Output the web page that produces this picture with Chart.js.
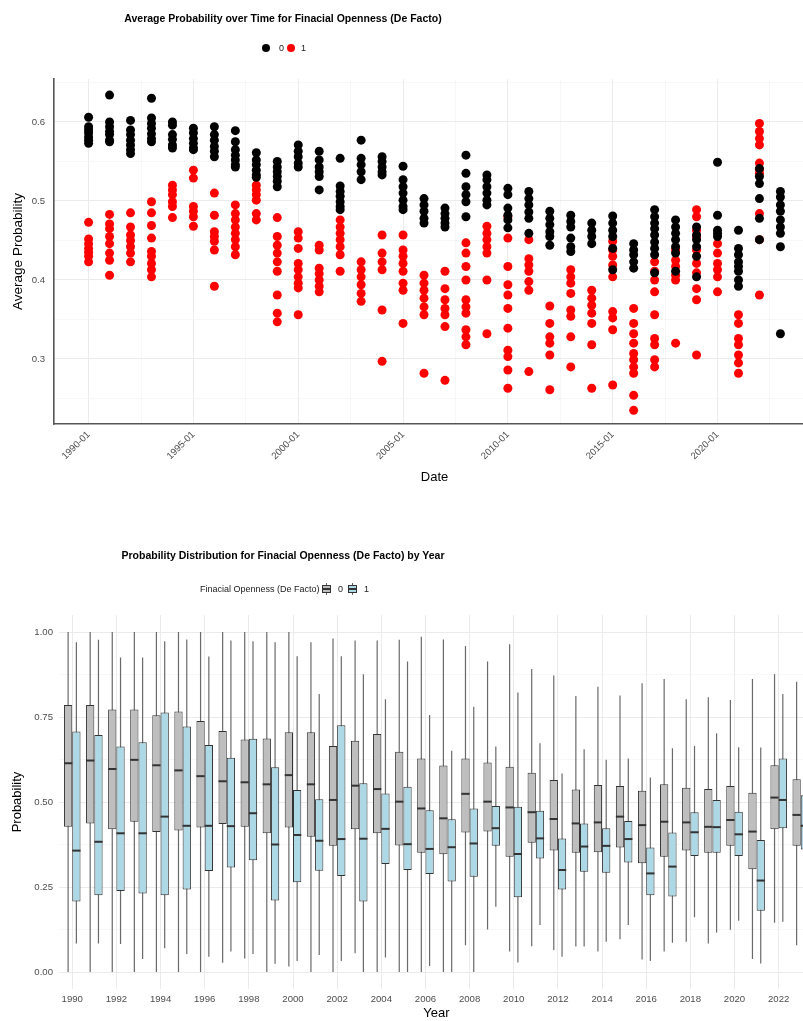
<!DOCTYPE html>
<html>
<head>
<meta charset="utf-8">
<script src="https://cdn.jsdelivr.net/npm/chart.js@4.4.1/dist/chart.umd.min.js"></script>
<style>
  html, body { margin: 0; padding: 0; background: #fff; overflow: hidden; }
  #page { position: relative; width: 820px; height: 1021px; font-family: "Liberation Sans", Arial, Helvetica, sans-serif; }
  canvas { position: absolute; left: 0; }
  #scatter { top: 0; }
  #boxes { top: 500px; }
  .txt { position: absolute; color: #000; white-space: nowrap; line-height: 14px; }
  .title { left: 0; width: 566px; text-align: center; font-weight: bold; font-size: 10.5px; }
  .leg { font-size: 9px; color: #1a1a1a; }
  .dot { position: absolute; width: 8px; height: 8px; border-radius: 50%; }
  .key { position: absolute; width: 9px; height: 12px; }
  .key i { position: absolute; display: block; }
  .key .wh { left: 4px; top: 0; width: 1px; height: 12px; background: #666; }
  .key .bx { left: 0; top: 2px; width: 7px; height: 6px; border: 1px solid #333; }
  .key .md { left: 0; top: 5px; width: 9px; height: 1.5px; background: #333; }
</style>
</head>
<body>
<div id="page">
  <canvas id="scatter" width="820" height="500"></canvas>
  <canvas id="boxes" width="820" height="521"></canvas>

  <div class="txt title" style="top:11px">Average Probability over Time for Finacial Openness (De Facto)</div>
  <span class="dot" style="left:262px;top:44px;background:#000"></span>
  <span class="txt leg" style="left:279px;top:41px">0</span>
  <span class="dot" style="left:287px;top:44px;background:#ff0000"></span>
  <span class="txt leg" style="left:301px;top:41px">1</span>

  <div class="txt title" style="top:548px">Probability Distribution for Finacial Openness (De Facto) by Year</div>
  <span class="txt leg" style="left:200px;top:582px">Finacial Openness (De Facto)</span>
  <span class="key" style="left:322px;top:583px"><i class="wh"></i><i class="bx" style="background:#bebebe"></i><i class="md"></i></span>
  <span class="txt leg" style="left:338px;top:582px">0</span>
  <span class="key" style="left:348px;top:583px"><i class="wh"></i><i class="bx" style="background:#add8e6"></i><i class="md"></i></span>
  <span class="txt leg" style="left:364px;top:582px">1</span>
</div>

<script>
// Years shared by both charts
var years = [1990, 1991, 1992, 1993, 1994, 1995, 1996, 1997, 1998, 1999,
             2000, 2001, 2002, 2003, 2004, 2005, 2006, 2007, 2008, 2009,
             2010, 2011, 2012, 2013, 2014, 2015, 2016, 2017, 2018, 2019,
             2020, 2021, 2022, 2023];

// Average probability per year, group 0 (black)
var avgProb0 = [
    [0.606, 0.594, 0.590, 0.586, 0.581, 0.577, 0.573],
    [0.634, 0.600, 0.594, 0.588, 0.584, 0.577, 0.575],
    [0.602, 0.590, 0.584, 0.577, 0.571, 0.565, 0.560],
    [0.630, 0.605, 0.598, 0.592, 0.585, 0.579, 0.575],
    [0.600, 0.596, 0.584, 0.578, 0.571, 0.567],
    [0.592, 0.586, 0.579, 0.573, 0.567, 0.565],
    [0.594, 0.584, 0.577, 0.569, 0.563, 0.556],
    [0.589, 0.575, 0.565, 0.558, 0.552, 0.546, 0.543],
    [0.561, 0.552, 0.546, 0.539, 0.533, 0.530],
    [0.550, 0.543, 0.537, 0.531, 0.525, 0.518],
    [0.571, 0.563, 0.556, 0.548, 0.543],
    [0.563, 0.552, 0.543, 0.537, 0.531, 0.514],
    [0.554, 0.519, 0.512, 0.506, 0.499, 0.493, 0.489],
    [0.577, 0.554, 0.546, 0.537, 0.527],
    [0.556, 0.550, 0.543, 0.537, 0.533],
    [0.544, 0.527, 0.518, 0.510, 0.501, 0.493, 0.489],
    [0.503, 0.495, 0.487, 0.478, 0.472],
    [0.491, 0.484, 0.478, 0.472, 0.467],
    [0.558, 0.535, 0.518, 0.508, 0.499, 0.480],
    [0.533, 0.527, 0.518, 0.510, 0.501, 0.495],
    [0.516, 0.508, 0.491, 0.482, 0.476, 0.466],
    [0.512, 0.503, 0.495, 0.486, 0.478, 0.459],
    [0.487, 0.478, 0.470, 0.461, 0.455, 0.444],
    [0.482, 0.474, 0.467, 0.453, 0.442, 0.436],
    [0.472, 0.463, 0.455, 0.446],
    [0.481, 0.472, 0.463, 0.455, 0.440, 0.413],
    [0.446, 0.438, 0.432, 0.423, 0.415],
    [0.489, 0.480, 0.472, 0.465, 0.457, 0.448, 0.440, 0.432, 0.409],
    [0.476, 0.467, 0.459, 0.451, 0.442, 0.434, 0.411],
    [0.467, 0.457, 0.451, 0.442, 0.430, 0.404],
    [0.549, 0.482, 0.463, 0.459, 0.455],
    [0.463, 0.440, 0.432, 0.423, 0.417, 0.411, 0.400, 0.392],
    [0.541, 0.531, 0.522, 0.503, 0.478, 0.451],
    [0.512, 0.505, 0.495, 0.487, 0.476, 0.467, 0.459, 0.442, 0.332]
];

// Average probability per year, group 1 (red)
var avgProb1 = [
    [0.473, 0.452, 0.446, 0.440, 0.435, 0.430, 0.423],
    [0.483, 0.471, 0.465, 0.455, 0.446, 0.434, 0.425, 0.406],
    [0.485, 0.467, 0.457, 0.450, 0.442, 0.434, 0.423],
    [0.499, 0.485, 0.469, 0.453, 0.436, 0.430, 0.421, 0.413, 0.404],
    [0.520, 0.514, 0.508, 0.499, 0.493, 0.479],
    [0.539, 0.529, 0.493, 0.487, 0.480, 0.468],
    [0.510, 0.482, 0.461, 0.455, 0.449, 0.438, 0.392],
    [0.495, 0.484, 0.476, 0.467, 0.459, 0.451, 0.442, 0.432],
    [0.520, 0.514, 0.508, 0.501, 0.484, 0.476],
    [0.479, 0.455, 0.444, 0.434, 0.423, 0.411, 0.381, 0.358, 0.347],
    [0.461, 0.453, 0.440, 0.421, 0.413, 0.404, 0.396, 0.390, 0.356],
    [0.444, 0.438, 0.415, 0.408, 0.400, 0.392, 0.385],
    [0.476, 0.467, 0.459, 0.451, 0.442, 0.432, 0.411],
    [0.423, 0.413, 0.404, 0.394, 0.383, 0.373],
    [0.457, 0.434, 0.423, 0.413, 0.362, 0.297],
    [0.457, 0.438, 0.430, 0.421, 0.411, 0.396, 0.387, 0.345],
    [0.406, 0.396, 0.387, 0.377, 0.366, 0.356, 0.282],
    [0.411, 0.389, 0.375, 0.364, 0.356, 0.341, 0.273],
    [0.447, 0.434, 0.417, 0.400, 0.375, 0.366, 0.358, 0.337, 0.328, 0.318],
    [0.468, 0.459, 0.451, 0.442, 0.434, 0.400, 0.332],
    [0.480, 0.453, 0.417, 0.394, 0.381, 0.364, 0.339, 0.311, 0.303, 0.286, 0.263],
    [0.451, 0.427, 0.419, 0.411, 0.398, 0.387, 0.284],
    [0.367, 0.345, 0.328, 0.320, 0.305, 0.261],
    [0.413, 0.404, 0.396, 0.383, 0.362, 0.354, 0.328, 0.290],
    [0.387, 0.377, 0.368, 0.358, 0.345, 0.318, 0.263],
    [0.449, 0.438, 0.430, 0.419, 0.404, 0.360, 0.352, 0.337, 0.267],
    [0.364, 0.345, 0.332, 0.320, 0.307, 0.299, 0.290, 0.282, 0.254, 0.235],
    [0.423, 0.411, 0.400, 0.385, 0.356, 0.326, 0.318, 0.299, 0.290],
    [0.438, 0.425, 0.417, 0.406, 0.400, 0.320],
    [0.489, 0.480, 0.463, 0.455, 0.438, 0.421, 0.409, 0.389, 0.375, 0.305],
    [0.446, 0.434, 0.421, 0.413, 0.404, 0.385],
    [0.356, 0.345, 0.326, 0.318, 0.305, 0.295, 0.282],
    [0.598, 0.588, 0.579, 0.571, 0.548, 0.540, 0.535, 0.484, 0.451, 0.381],
    []
];

// Box plot statistics, group 0 (grey)
var hiZero  = [1.0, 1.0, 1.0, 1.0, 1.0, 1.0, 1.0, 1.0, 1.0, 1.0, 1.0, 0.970, 0.981, 0.975, 0.975,
               0.977, 0.986, 0.978, 0.959, 0.913, 0.964, 0.891, 0.872, 0.812, 0.839, 0.813, 0.849,
               0.862, 0.802, 0.808, 0.800, 0.862, 0.876, 0.854];
var q3Zero  = [0.785, 0.785, 0.772, 0.772, 0.755, 0.766, 0.738, 0.709, 0.684, 0.687, 0.705, 0.705, 0.665, 0.680, 0.700,
               0.648, 0.628, 0.607, 0.628, 0.616, 0.604, 0.586, 0.565, 0.537, 0.550, 0.547, 0.533,
               0.552, 0.542, 0.538, 0.547, 0.527, 0.608, 0.567];
var medZero = [0.614, 0.622, 0.597, 0.624, 0.608, 0.593, 0.576, 0.561, 0.558, 0.552, 0.579, 0.552, 0.506, 0.548, 0.538,
               0.501, 0.481, 0.452, 0.524, 0.501, 0.484, 0.470, 0.450, 0.437, 0.440, 0.457, 0.432,
               0.442, 0.440, 0.427, 0.447, 0.413, 0.513, 0.462];
var q1Zero  = [0.427, 0.437, 0.420, 0.442, 0.412, 0.416, 0.425, 0.435, 0.427, 0.408, 0.425, 0.398, 0.371, 0.420, 0.408,
               0.372, 0.351, 0.346, 0.410, 0.413, 0.339, 0.380, 0.357, 0.351, 0.352, 0.366, 0.320,
               0.339, 0.357, 0.351, 0.371, 0.302, 0.420, 0.371];
var loZero  = [0.0, 0.0, 0.0, 0.0, 0.0, 0.0, 0.0, 0.027, 0.040, 0.0, 0.016, 0.0, 0.0, 0.055, 0.0,
               0.0, 0.0, 0.0, 0.079, 0.125, 0.060, 0.076, 0.065, 0.075, 0.060, 0.096, 0.037,
               0.060, 0.089, 0.084, 0.124, 0.038, 0.145, 0.079];

// Box plot statistics, group 1 (light blue)
var hiOne  = [0.970, 0.977, 0.925, 0.925, 0.973, 0.978, 0.928, 0.975, 0.973, 0.970, 0.929, 0.818, 0.929, 0.876, 0.802,
              0.913, 0.756, 0.651, 0.780, 0.663, 0.822, 0.673, 0.584, 0.655, 0.624, 0.628, 0.572,
              0.658, 0.665, 0.702, 0.661, 0.660, 0.818, 0.780];
var q3One  = [0.707, 0.697, 0.663, 0.676, 0.763, 0.722, 0.668, 0.630, 0.686, 0.602, 0.535, 0.508, 0.726, 0.555, 0.525,
              0.545, 0.476, 0.449, 0.481, 0.488, 0.486, 0.474, 0.393, 0.437, 0.423, 0.444, 0.366,
              0.410, 0.470, 0.506, 0.471, 0.388, 0.628, 0.520];
var medOne = [0.357, 0.383, 0.408, 0.408, 0.457, 0.430, 0.430, 0.429, 0.467, 0.375, 0.403, 0.386, 0.391, 0.392, 0.421,
              0.376, 0.362, 0.367, 0.378, 0.423, 0.347, 0.393, 0.300, 0.369, 0.371, 0.391, 0.290,
              0.310, 0.411, 0.426, 0.405, 0.269, 0.506, 0.430];
var q1One  = [0.207, 0.226, 0.238, 0.231, 0.226, 0.243, 0.297, 0.307, 0.329, 0.210, 0.264, 0.298, 0.282, 0.207, 0.318,
              0.300, 0.288, 0.266, 0.280, 0.371, 0.220, 0.334, 0.243, 0.295, 0.292, 0.322, 0.226,
              0.222, 0.341, 0.351, 0.341, 0.180, 0.423, 0.360];
var loOne  = [0.084, 0.084, 0.082, 0.038, 0.070, 0.053, 0.045, 0.060, 0.053, 0.024, 0.032, 0.050, 0.032, 0.0, 0.043,
              0.0, 0.018, 0.0, 0.0, 0.192, 0.028, 0.138, 0.045, 0.075, 0.089, 0.138, 0.032,
              0.086, 0.161, 0.116, 0.151, 0.025, 0.148, 0.120];

// Tick positions (major + minor grid)
var dateTicks = [1990, 1992.5, 1995, 1997.5, 2000, 2002.5, 2005, 2007.5, 2010, 2012.5, 2015, 2017.5, 2020, 2022.5];
var avgTicks = [0.25, 0.3, 0.35, 0.4, 0.45, 0.5, 0.55, 0.6, 0.65];
var yearTicks = [1990, 1992, 1994, 1996, 1998, 2000, 2002, 2004, 2006, 2008, 2010, 2012, 2014, 2016, 2018, 2020, 2022];
var probTicks = [0, 0.125, 0.25, 0.375, 0.5, 0.625, 0.75, 0.875, 1];

var FONT = '"Liberation Sans", Arial, Helvetica, sans-serif';
Chart.defaults.font.family = FONT;

function toPoints(groups) {
    var pts = [];
    groups.forEach(function(vals, i) {
        vals.forEach(function(v) { pts.push({x: years[i], y: v}); });
    });
    return pts;
}

function isMultiple(v, step) {
    return Math.abs(v / step - Math.round(v / step)) < 1e-6;
}

function fixTicks(list) {
    return function(axis) {
        axis.ticks = list.map(function(v) { return {value: v}; });
    };
}

// ---- Scatter: average probability over time ----
new Chart(document.getElementById('scatter'), {
    type: 'scatter',
    data: {
        datasets: [{
            label: '0',
            data: toPoints(avgProb0),
            backgroundColor: '#000000',
            pointRadius: 4.5,
            pointHoverRadius: 4.5,
            borderWidth: 0
        }, {
            label: '1',
            data: toPoints(avgProb1),
            backgroundColor: '#ff0000',
            pointRadius: 4.5,
            pointHoverRadius: 4.5,
            borderWidth: 0
        }]
    },
    options: {
        responsive: false,
        animation: false,
        layout: {padding: {top: 79, right: 5, bottom: 0, left: 0}},
        plugins: {legend: {display: false}, tooltip: {enabled: false}},
        scales: {
            x: {
                type: 'linear',
                min: 1988.35,
                max: 2024.65,
                afterBuildTicks: fixTicks(dateTicks),
                afterFit: function(axis) { axis.height = 76; },
                ticks: {
                    autoSkip: false,
                    minRotation: 45,
                    maxRotation: 45,
                    padding: 5,
                    color: '#4d4d4d',
                    font: {size: 9.6},
                    callback: function(v) { return isMultiple(v, 5) ? v + '-01' : ''; }
                },
                grid: {
                    drawTicks: false,
                    color: function(c) { return isMultiple(c.tick.value, 5) ? '#ebebeb' : '#f3f3f3'; },
                    lineWidth: function(c) { return isMultiple(c.tick.value, 5) ? 1 : 0.7; }
                },
                border: {display: true, color: '#555555', width: 1.6},
                title: {display: true, text: 'Date', color: '#000', font: {size: 13}, padding: {top: 0, bottom: 15}}
            },
            y: {
                min: 0.2177,
                max: 0.6544,
                afterBuildTicks: fixTicks(avgTicks),
                afterFit: function(axis) { axis.width = 54; },
                ticks: {
                    padding: 9,
                    color: '#4d4d4d',
                    font: {size: 9.6},
                    callback: function(v) { return isMultiple(v, 0.1) ? v.toFixed(1) : ''; }
                },
                grid: {
                    drawTicks: false,
                    color: function(c) { return isMultiple(c.tick.value, 0.1) ? '#ebebeb' : '#f3f3f3'; },
                    lineWidth: function(c) { return isMultiple(c.tick.value, 0.1) ? 1 : 0.7; }
                },
                border: {display: true, color: '#555555', width: 1.6},
                title: {display: true, text: 'Average Probability', color: '#000', font: {size: 13.5}, padding: {top: 10, bottom: 0}}
            }
        }
    }
});

// ---- Box plot: whiskers behind the boxes, medians on top ----
var boxWhiskers = {
    id: 'boxWhiskers',
    beforeDatasetsDraw: function(chart) {
        var ctx = chart.ctx;
        var yScale = chart.scales.y;
        ctx.save();
        ctx.strokeStyle = '#6a6a6a';
        ctx.lineWidth = 1.2;
        chart.data.datasets.forEach(function(ds, i) {
            chart.getDatasetMeta(i).data.forEach(function(bar, j) {
                ctx.beginPath();
                ctx.moveTo(bar.x, yScale.getPixelForValue(ds.hi[j]));
                ctx.lineTo(bar.x, yScale.getPixelForValue(ds.lo[j]));
                ctx.stroke();
            });
        });
        ctx.restore();
    },
    afterDatasetsDraw: function(chart) {
        var ctx = chart.ctx;
        var yScale = chart.scales.y;
        ctx.save();
        ctx.strokeStyle = '#333333';
        ctx.lineWidth = 2;
        chart.data.datasets.forEach(function(ds, i) {
            chart.getDatasetMeta(i).data.forEach(function(bar, j) {
                var py = yScale.getPixelForValue(ds.med[j]);
                ctx.beginPath();
                ctx.moveTo(bar.x - bar.width / 2, py);
                ctx.lineTo(bar.x + bar.width / 2, py);
                ctx.stroke();
            });
        });
        ctx.restore();
    }
};

function boxData(q1, q3) {
    return years.map(function(yr, i) { return {x: yr, y: [q1[i], q3[i]]}; });
}

new Chart(document.getElementById('boxes'), {
    type: 'bar',
    data: {
        datasets: [{
            label: '0',
            data: boxData(q1Zero, q3Zero),
            lo: loZero, med: medZero, hi: hiZero,
            backgroundColor: '#bebebe',
            borderColor: '#333333',
            borderWidth: 1,
            borderSkipped: false
        }, {
            label: '1',
            data: boxData(q1One, q3One),
            lo: loOne, med: medOne, hi: hiOne,
            backgroundColor: '#add8e6',
            borderColor: '#333333',
            borderWidth: 1,
            borderSkipped: false
        }]
    },
    options: {
        responsive: false,
        animation: false,
        datasets: {bar: {categoryPercentage: 0.75, barPercentage: 1}},
        layout: {padding: {top: 115, right: 6, bottom: 0, left: 0}},
        plugins: {legend: {display: false}, tooltip: {enabled: false}},
        scales: {
            x: {
                type: 'linear',
                offset: false,
                min: 1989.4,
                max: 2023.6,
                afterBuildTicks: fixTicks(yearTicks),
                afterFit: function(axis) { axis.height = 32; },
                ticks: {
                    autoSkip: false,
                    maxRotation: 0,
                    padding: 5,
                    color: '#4d4d4d',
                    font: {size: 9.6},
                    callback: function(v) { return String(v); }
                },
                grid: {drawTicks: false, offset: false, color: '#ebebeb', lineWidth: 1},
                border: {display: false},
                title: {display: true, text: 'Year', color: '#000', font: {size: 13}, padding: {top: 0, bottom: 0}}
            },
            y: {
                min: -0.05,
                max: 1.05,
                afterBuildTicks: fixTicks(probTicks),
                afterFit: function(axis) { axis.width = 59; },
                ticks: {
                    padding: 6,
                    color: '#4d4d4d',
                    font: {size: 9.6},
                    callback: function(v) { return isMultiple(v, 0.25) ? v.toFixed(2) : ''; }
                },
                grid: {
                    drawTicks: false,
                    color: function(c) { return isMultiple(c.tick.value, 0.25) ? '#ebebeb' : '#f3f3f3'; },
                    lineWidth: function(c) { return isMultiple(c.tick.value, 0.25) ? 1 : 0.7; }
                },
                border: {display: false},
                title: {display: true, text: 'Probability', color: '#000', font: {size: 13}, padding: {top: 10, bottom: 0}}
            }
        }
    },
    plugins: [boxWhiskers]
});
</script>
</body>
</html>
